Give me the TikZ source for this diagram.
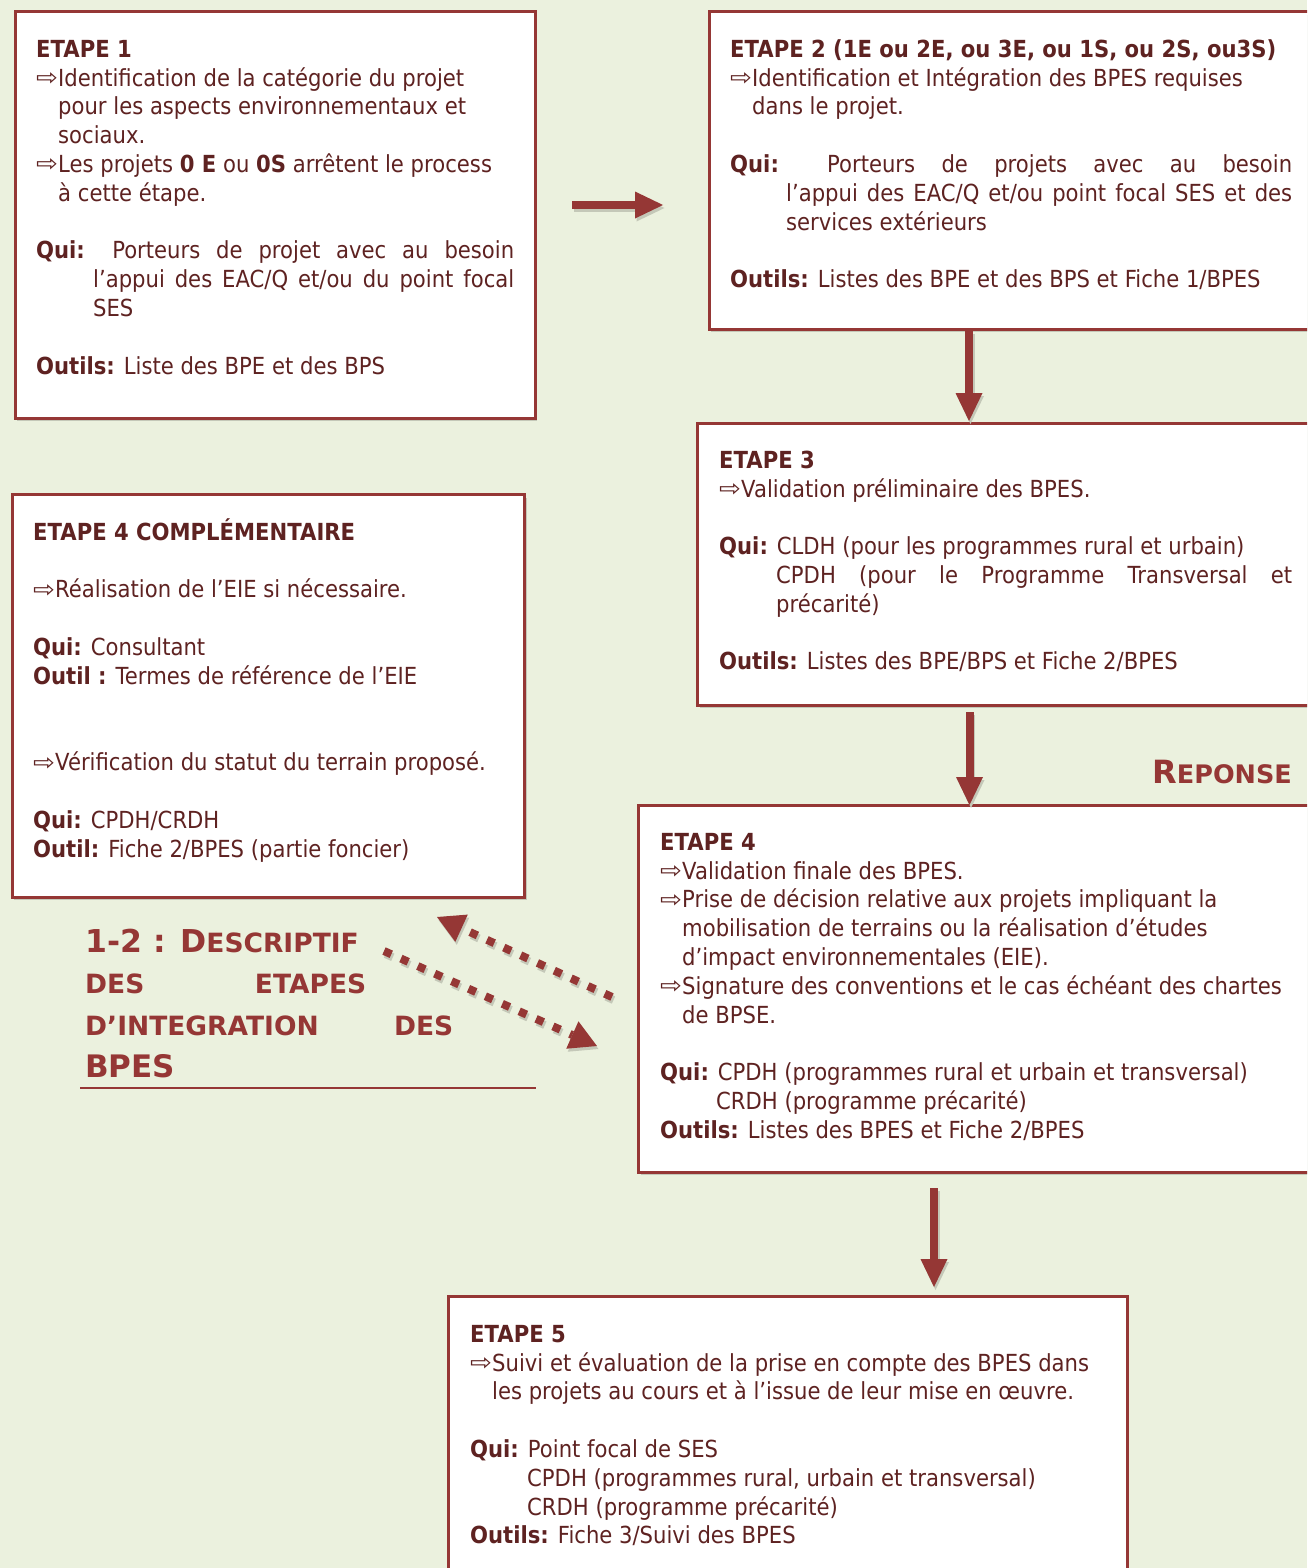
\documentclass[tikz,border=0pt]{standalone}
\usepackage{fontspec}
\setmainfont{DejaVu Sans}[FakeStretch=0.9]
\newfontfamily\ttlfont{DejaVu Sans}
\usetikzlibrary{arrows.meta,shadows}
\definecolor{bgc}{HTML}{EBF1DE}
\definecolor{brd}{HTML}{953735}
\definecolor{txc}{HTML}{5E2221}
\definecolor{shd}{HTML}{C4C8B8}
\newcommand\arw{\makebox[22pt][l]{\fontsize{20}{20}\selectfont\raisebox{0.5pt}{\scalebox{1.45}[1.15]{⇨}}}}
\newcommand\ind{\hspace*{22pt}}
\newcommand\sq{{\char"27}}
\tikzset{
  stepbox/.style={draw=brd, line width=3pt, fill=white, rectangle, inner sep=0pt, outer sep=0pt, anchor=north west,
    drop shadow={shadow xshift=2pt, shadow yshift=-3pt, fill=shd, opacity=1}},
  txt/.style={anchor=north west, inner sep=0pt, align=left, text=txc, font=\fontsize{23.5}{28.8}\selectfont},
  ttl/.style={anchor=base west, inner sep=0pt, text=brd, font=\ttlfont\bfseries},
  bigarrow/.style={draw=brd, line width=8pt, -{Triangle[length=28pt,width=27pt,line width=0pt]}},
  bigshadow/.style={draw=shd, line width=8pt, -{Triangle[length=28pt,width=27pt,line width=0pt]}, transform canvas={shift={(1.5pt,-3pt)}}},
  dotarrow/.style={draw=brd, line width=8pt, dash pattern=on 8pt off 10.5pt, -{Triangle[length=27pt,width=30pt,line width=0pt]}},
  dotshadow/.style={draw=shd, line width=8pt, dash pattern=on 8pt off 10.5pt, -{Triangle[length=27pt,width=30pt,line width=0pt]}, transform canvas={shift={(1.5pt,-3pt)}}},
}
\begin{document}
\begin{tikzpicture}[x=1pt,y=-1pt]
\useasboundingbox (0,0) rectangle (1307,1568);
\fill[bgc] (0,0) rectangle (1307,1568);
\clip (0,0) rectangle (1307,1568);

% boxes
\node[stepbox, minimum width=520pt, minimum height=406pt] (e1) at (15,12) {};
\node[stepbox, minimum width=621pt, minimum height=317pt] (e2) at (709,12) {};
\node[stepbox, minimum width=633pt, minimum height=282pt] (e3) at (697.5,423) {};
\node[stepbox, minimum width=512.5pt, minimum height=402.5pt] (e4c) at (12,494.5) {};
\node[stepbox, minimum width=692pt, minimum height=367pt] (e4) at (638.5,805) {};
\node[stepbox, minimum width=679pt, minimum height=320pt] (e5) at (448,1296) {};

% texts
\node[txt] (t1) at (36,33) {\rule{0pt}{24pt}\textbf{ETAPE 1}\\
\arw Identification de la catégorie du projet\\
\ind pour les aspects environnementaux et\\
\ind sociaux.\\
\arw Les projets \textbf{0 E} ou \textbf{0S} arrêtent le process\\
\ind à cette étape.\\[28.8pt]
\makebox[478pt][s]{\textbf{Qui:} Porteurs de projet avec au besoin}\\
\hspace*{57pt}\makebox[421pt][s]{l\sq appui des EAC/Q et/ou du point focal}\\
\hspace*{57pt}SES\\[28.8pt]
\textbf{Outils:} Liste des BPE et des BPS};

\node[txt] (t2) at (730,33) {\rule{0pt}{24pt}\textbf{ETAPE 2 (1E ou 2E, ou 3E, ou 1S, ou 2S, ou3S)}\\
\arw Identification et Intégration des BPES requises\\
\ind dans le projet.\\[28.8pt]
\makebox[562pt][s]{\textbf{Qui:} Porteurs de projets avec au besoin}\\
\hspace*{56pt}\makebox[506pt][s]{l’appui des EAC/Q et/ou point focal SES et des}\\
\hspace*{56pt}services extérieurs\\[28.8pt]
\textbf{Outils:} Listes des BPE et des BPS et Fiche 1/BPES};

\node[txt] (t3) at (719,444) {\rule{0pt}{24pt}\textbf{ETAPE 3}\\
\arw Validation préliminaire des BPES.\\[28.8pt]
\textbf{Qui:} CLDH (pour les programmes rural et urbain)\\
\hspace*{57pt}\makebox[516pt][s]{CPDH (pour le Programme Transversal et}\\
\hspace*{57pt}précarité)\\[28.8pt]
\textbf{Outils:} Listes des BPE/BPS et Fiche 2/BPES};

\node[txt] (t4c) at (33,516) {\rule{0pt}{24pt}\textbf{ETAPE 4 COMPLÉMENTAIRE}\\[28.8pt]
\arw Réalisation de l’EIE si nécessaire.\\[28.8pt]
\textbf{Qui:} Consultant\\
\textbf{Outil :} Termes de référence de l’EIE\\[57.6pt]
\arw Vérification du statut du terrain proposé.\\[28.8pt]
\textbf{Qui:} CPDH/CRDH\\
\textbf{Outil:} Fiche 2/BPES (partie foncier)};

\node[txt] (t4) at (660,826) {\rule{0pt}{24pt}\textbf{ETAPE 4}\\
\arw Validation finale des BPES.\\
\arw Prise de décision relative aux projets impliquant la\\
\ind mobilisation de terrains ou la réalisation d’études\\
\ind d\sq impact environnementales (EIE).\\
\arw Signature des conventions et le cas échéant des chartes\\
\ind de BPSE.\\[28.8pt]
\textbf{Qui:} CPDH (programmes rural et urbain et transversal)\\
\hspace*{56pt}CRDH (programme précarité)\\
\textbf{Outils:} Listes des BPES et Fiche 2/BPES};

\node[txt] (t5) at (470,1318) {\rule{0pt}{24pt}\textbf{ETAPE 5}\\
\arw Suivi et évaluation de la prise en compte des BPES dans\\
\ind les projets au cours et à l’issue de leur mise en œuvre.\\[28.8pt]
\textbf{Qui:} Point focal de SES\\
\hspace*{57pt}CPDH (programmes rural, urbain et transversal)\\
\hspace*{57pt}CRDH (programme précarité)\\
\textbf{Outils:} Fiche 3/Suivi des BPES};

% title
\node[ttl] (h1) at (85,952) {{\fontsize{31.5}{31.5}\selectfont 1-2 : D}{\fontsize{26.5}{26.5}\selectfont ESCRIPTIF}};
\node[ttl] (h2) at (85,993) {\fontsize{26.5}{26.5}\selectfont\makebox[281pt][s]{DES ETAPES}};
\node[ttl] (h3) at (85,1035) {\fontsize{26.5}{26.5}\selectfont\makebox[368pt][s]{D’INTEGRATION DES}};
\node[ttl] (h4) at (85,1077) {\fontsize{31}{31}\selectfont BPES};
\draw[brd, line width=2pt] (80,1088) -- (536,1088);

\node[ttl, anchor=base east] (rep) at (1292,783) {{\fontsize{32}{32}\selectfont R}{\fontsize{25.5}{25.5}\selectfont EPONSE}};

% connectors
\coordinate (a12s) at (572,205); \coordinate (a12e) at (663,205);
\coordinate (a23s) at (969,331); \coordinate (a23e) at (969,421);
\coordinate (a34s) at (969.5,712); \coordinate (a34e) at (969.5,805);
\coordinate (a45s) at (934,1188); \coordinate (a45e) at (934,1287);
\coordinate (dus) at (612,997); \coordinate (due) at (437,917);
\coordinate (dls) at (384,951); \coordinate (dle) at (597,1046);

\foreach \s/\e in {a12s/a12e,a23s/a23e,a34s/a34e,a45s/a45e}{
  \draw[bigshadow] (\s) -- (\e);
  \draw[bigarrow] (\s) -- (\e);
}
\draw[dotshadow] (dus) -- (due);
\draw[dotarrow] (dus) -- (due);
\draw[dotshadow] (dls) -- (dle);
\draw[dotarrow] (dls) -- (dle);
\end{tikzpicture}
\end{document}
